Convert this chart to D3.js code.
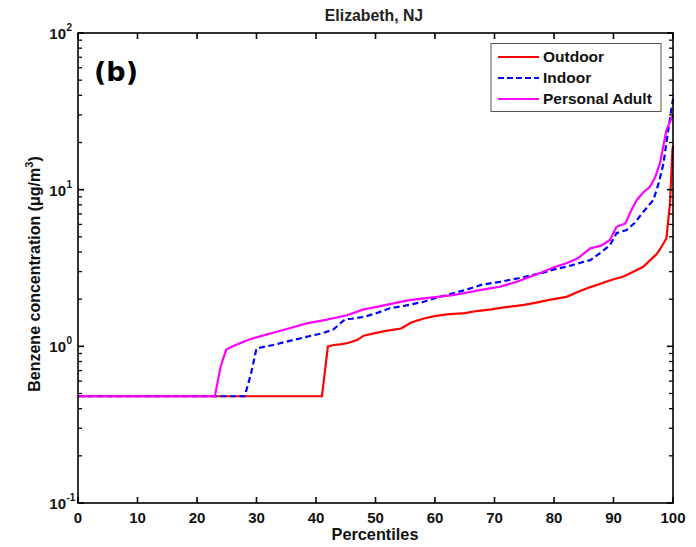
<!DOCTYPE html>
<html><head><meta charset="utf-8">
<script src="https://cdn.jsdelivr.net/npm/d3@7"></script>
<style>body{margin:0;background:#fff}text{font-family:"Liberation Sans",Arial,sans-serif}</style>
</head><body><svg id="c" width="696" height="547"></svg>
<script>
const xTicks = [0,10,20,30,40,50,60,70,80,90,100];
const yTickExps = [-1,0,1,2];
const seriesNames = ["Outdoor","Indoor","Personal Adult"];
const seriesColors = ["#ff0000","#0000ff","#ff00ff"];

const outdoorP = [0,41,42,43,44,45.4,47,48,50.1,52,54.3,56,58,59.9,62,65,67,69.5,71,73,75,77,79,82.1,84,86,87.7,89,90,91.6,93,95,96,97.3,98.2,98.9,99.5,99.9,100];
const outdoorV = [0.48,0.48,1.0,1.02,1.03,1.05,1.1,1.17,1.22,1.26,1.3,1.42,1.5,1.56,1.6,1.63,1.68,1.72,1.76,1.8,1.84,1.9,1.97,2.07,2.22,2.38,2.5,2.6,2.68,2.78,2.95,3.22,3.5,3.9,4.4,4.9,8.2,17.9,19];

const indoorP = [0,28,29,30,32.8,35,38.4,41,42.9,44.9,46,48,50,52.4,55,58,60,62,65,68,70.9,74,78.2,80,82.1,84,86.1,88,89.4,90.5,92.2,93.5,95,96.7,97.6,98.4,99.2,99.8,100];
const indoorV = [0.48,0.48,0.65,0.97,1.02,1.07,1.15,1.21,1.28,1.49,1.5,1.54,1.62,1.75,1.82,1.92,2.03,2.13,2.28,2.48,2.58,2.72,2.95,3.1,3.22,3.38,3.55,4.0,4.43,5.27,5.53,6.1,7.2,8.6,11,14.7,24,33.7,38];

const personalP = [0,23,24,24.9,26,28.9,31,33.4,36,38.4,41,42.9,45.2,48,50,52.4,55,57,60,63,65,68,70.9,74,78.2,80,82.1,84,86.1,88,89.4,90.5,92,93,93.9,95,96.1,97,97.8,98.9,100];
const personalV = [0.48,0.48,0.75,0.95,1.0,1.11,1.17,1.24,1.32,1.40,1.46,1.51,1.58,1.72,1.78,1.86,1.95,2.0,2.06,2.12,2.19,2.3,2.4,2.6,2.99,3.2,3.39,3.65,4.22,4.4,4.77,5.79,6.09,7.4,8.59,9.6,10.4,12,14.7,24,30];

const svg = d3.select("#c");
const L=78, R=673, T=33, B=503;
const x = d3.scaleLinear().domain([0,100]).range([L,R]);
const y = d3.scaleLog().domain([0.1,100]).range([B,T]);

// title
svg.append("text").attr("x",374).attr("y",20.5).attr("text-anchor","middle")
  .attr("font-size",15.8).attr("font-weight","bold").attr("fill","#222").text("Elizabeth, NJ");

// lines
const data = [[outdoorP,outdoorV],[indoorP,indoorV],[personalP,personalV]];
const line = d3.line().x(d=>x(d[0])).y(d=>y(d[1]));
const g = svg.append("g");
data.forEach((s,i)=>{
  const pts = s[0].map((p,j)=>[p,s[1][j]]);
  g.append("path").datum(pts).attr("d",line).attr("fill","none")
   .attr("stroke",seriesColors[i]).attr("stroke-width",2.2)
   .attr("stroke-dasharray", i===1 ? "6,3.5" : null);
});

// axes frame
const ax = svg.append("g").attr("stroke","#000").attr("stroke-width",1.6);
ax.append("rect").attr("x",L).attr("y",T).attr("width",R-L).attr("height",B-T).attr("fill","none");
// x ticks
xTicks.forEach(t=>{
  ax.append("line").attr("x1",x(t)).attr("x2",x(t)).attr("y1",B).attr("y2",B-6);
  ax.append("line").attr("x1",x(t)).attr("x2",x(t)).attr("y1",T).attr("y2",T+6);
  svg.append("text").attr("x",x(t)).attr("y",523).attr("text-anchor","middle")
    .attr("font-size",15).attr("font-weight","bold").attr("fill","#111").text(t);
});
// y ticks
yTickExps.forEach(e=>{
  const v = Math.pow(10,e);
  ax.append("line").attr("x1",L).attr("x2",L+6).attr("y1",y(v)).attr("y2",y(v));
  ax.append("line").attr("x1",R).attr("x2",R-6).attr("y1",y(v)).attr("y2",y(v));
  svg.append("text").attr("x",66).attr("y",y(v)+6).attr("text-anchor","end")
    .attr("font-size",15).attr("font-weight","bold").attr("fill","#111").text("10");
  svg.append("text").attr("x",66.5).attr("y",y(v)-2).attr("text-anchor","start")
    .attr("font-size",10).attr("font-weight","bold").attr("fill","#111").text(e);
  if(e<2){
    for(let m=2;m<=9;m++){
      const mv=m*v;
      ax.append("line").attr("x1",L).attr("x2",L+4).attr("y1",y(mv)).attr("y2",y(mv)).attr("stroke-width",1.3);
      ax.append("line").attr("x1",R).attr("x2",R-4).attr("y1",y(mv)).attr("y2",y(mv)).attr("stroke-width",1.3);
    }
  }
});

// axis labels
svg.append("text").attr("x",375).attr("y",540).attr("text-anchor","middle")
  .attr("font-size",16.3).attr("font-weight","bold").attr("fill","#111").text("Percentiles");
const yl = svg.append("text").attr("transform",`translate(40,274) rotate(-90)`).attr("text-anchor","middle")
  .attr("font-size",16).attr("font-weight","bold").attr("fill","#111");
yl.append("tspan").text("Benzene concentration (μg/m");
yl.append("tspan").attr("font-size",11).attr("dy",-7).text("3");
yl.append("tspan").attr("dy",7).text(")");

// (b)
svg.append("text").attr("x",94).attr("y",81).attr("font-size",27)
  .attr("style","font-family:'DejaVu Sans',Verdana,sans-serif").attr("font-weight","bold").attr("fill","#000").text("(b)");

// legend
const lg = svg.append("g");
lg.append("rect").attr("x",491).attr("y",43.5).attr("width",170).attr("height",68)
  .attr("fill","#fff").attr("stroke","#555").attr("stroke-width",1);
seriesNames.forEach((n,i)=>{
  const yy = 57+i*21;
  lg.append("line").attr("x1",498).attr("x2",539).attr("y1",yy).attr("y2",yy)
    .attr("stroke",seriesColors[i]).attr("stroke-width",2.2).attr("stroke-dasharray", i===1?"6,3":null);
  lg.append("text").attr("x",543).attr("y",yy+4.8).attr("font-size",15.5).attr("font-weight","bold")
    .attr("fill","#111").text(n);
});
</script></body></html>
